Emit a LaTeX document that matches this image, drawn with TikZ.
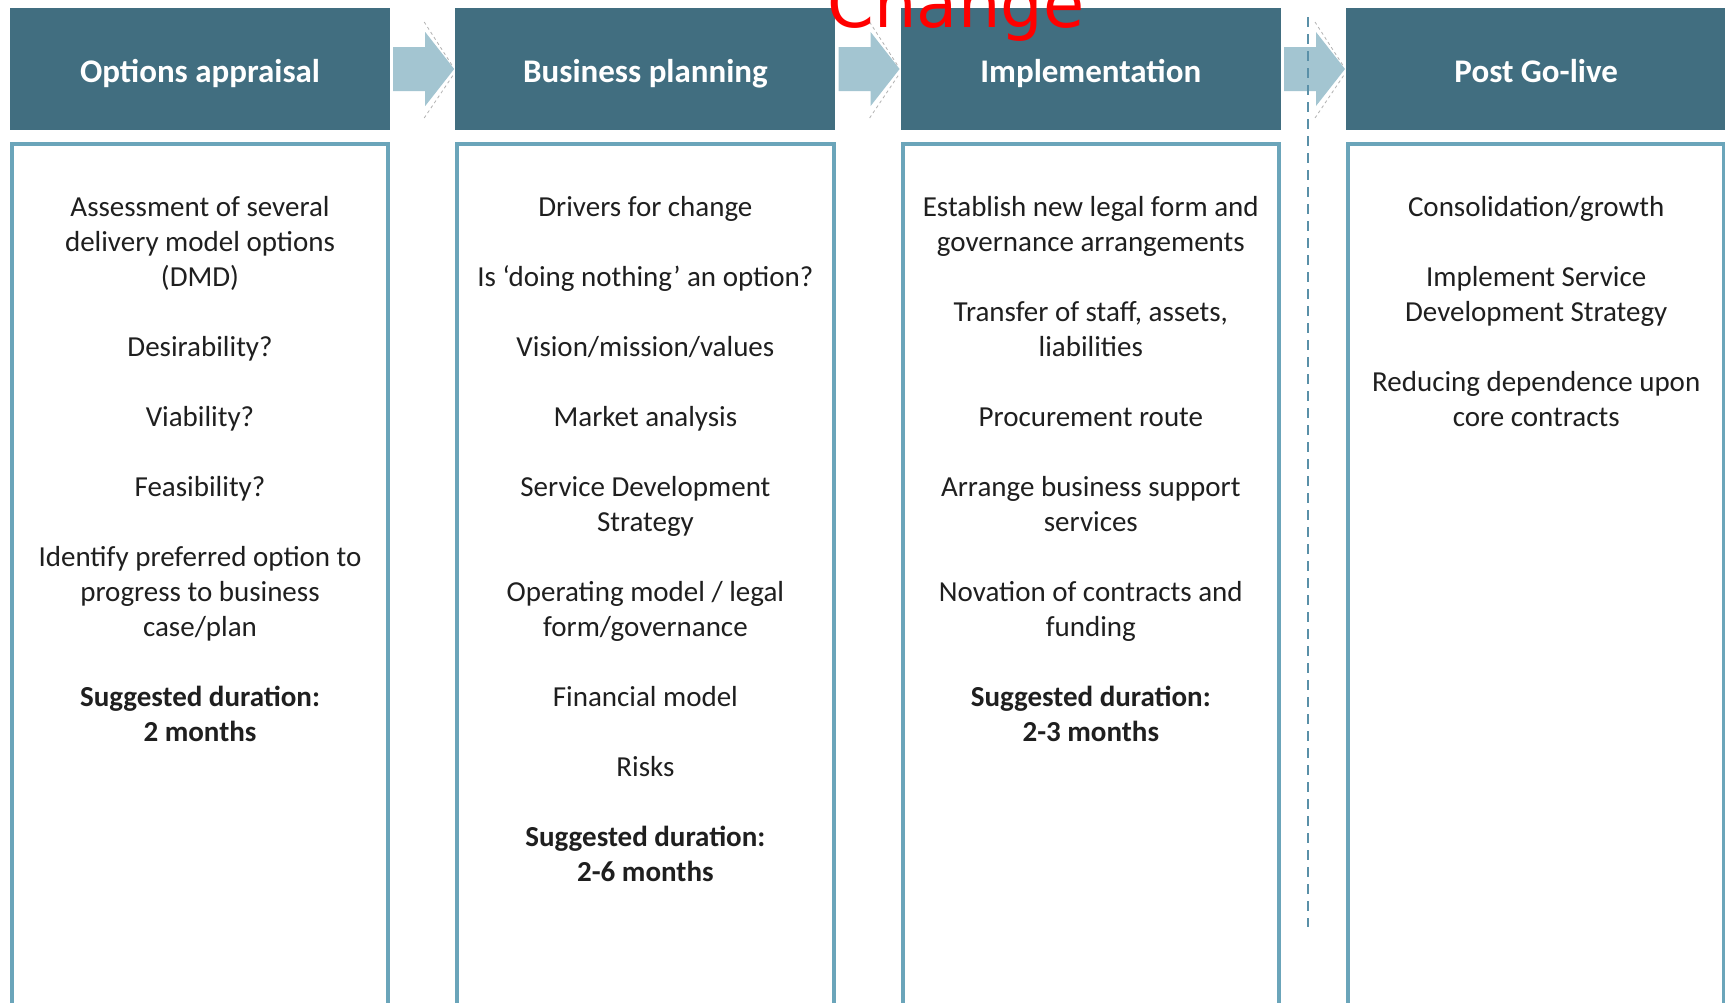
\documentclass[tikz,border=0pt]{standalone}
\usepackage{fontspec}
\setmainfont{Carlito}
\newfontfamily\changefont{DejaVu Sans}
\usetikzlibrary{calc,positioning}
\definecolor{headblue}{HTML}{416E80}
\definecolor{arrowblue}{HTML}{A3C5D1}
\definecolor{frameblue}{HTML}{6BA5BA}
\definecolor{cutblue}{HTML}{5A90A8}
\def\phasearrow(#1)(#2){\fill[arrowblue] ($(#1.east)+(3,-22)$) -| ($(#2.west)+(-30,-37)$) -- ($(#2.west)+(-1,0)$) -- ($(#2.west)+(-30,37)$) |- ($(#1.east)+(3,22)$) -- cycle;
	\draw[arrowedge] ($(#2.west)+(-31,-47)$) -- ($(#2.west)+(-2,-2)$);
	\draw[arrowedge] ($(#2.west)+(-31,49)$) -- ($(#2.west)+(-2,6)$);}
\tikzset{
	phasehead/.style={fill=headblue, text=white, minimum width=380pt, minimum height=122pt, inner sep=0pt, text height=26pt, text depth=0pt, font=\fontsize{33}{40}\selectfont\bfseries},
	phasetext/.style={align=center, inner sep=0pt, text=black!88, font=\fontsize{29}{35}\selectfont},
	bodyframe/.style={draw=frameblue, line width=4pt, fill=white},
	arrowedge/.style={draw=black!30, line width=0.8pt, dash pattern=on 3pt off 3pt},
	cutline/.style={draw=cutblue, line width=2pt, dash pattern=on 10pt off 7pt}
}

\begin{document}
\begin{tikzpicture}[x=1pt,y=-1pt]
		%%%%% START %%%%%
		\clip (0,0) rectangle (1725,1002);
		\fill[white] (0,0) rectangle (1725,1002);
		
		% phase headers
		\node[phasehead] (h1) at (200,69) {Options appraisal};
		\node[phasehead, right=65pt of h1] (h2) {Business planning};
		\node[phasehead, right=65pt of h2] (h3) {Implementation};
		\node[phasehead, right=65pt of h3] (h4) {Post Go-live};
		
		% phase bodies
		\foreach \h in {h1,h2,h3,h4}
			\draw[bodyframe] ($(\h.south west)+(2,14)$) rectangle ($(\h.south east)+(-2,900)$);
		
		\node[phasetext, below=66pt of h1] (t1) {Assessment of several\\delivery model options\\(DMD)\\[35pt]
			Desirability?\\[35pt]Viability?\\[35pt]Feasibility?\\[35pt]
			Identify preferred option to\\progress to business\\case/plan\\[35pt]
			\textbf{Suggested duration:}\\\textbf{2 months}};
		\node[phasetext, below=66pt of h2] (t2) {Drivers for change\\[35pt]
			Is ‘doing nothing’ an option?\\[35pt]Vision/mission/values\\[35pt]
			Market analysis\\[35pt]Service Development\\Strategy\\[35pt]
			Operating model / legal\\form/governance\\[35pt]Financial model\\[35pt]Risks\\[35pt]
			\textbf{Suggested duration:}\\\textbf{2-6 months}};
		\node[phasetext, below=66pt of h3] (t3) {Establish new legal form and\\governance arrangements\\[35pt]
			Transfer of staff, assets,\\liabilities\\[35pt]Procurement route\\[35pt]
			Arrange business support\\services\\[35pt]Novation of contracts and\\funding\\[35pt]
			\textbf{Suggested duration:}\\\textbf{2-3 months}};
		\node[phasetext, below=66pt of h4] (t4) {Consolidation/growth\\[35pt]
			Implement Service\\Development Strategy\\[35pt]
			Reducing dependence upon\\core contracts};
		
		% arrows between phases
		\phasearrow(h1)(h2)
		\phasearrow(h2)(h3)
		\phasearrow(h3)(h4)
		
		% go-live cut
		\coordinate (cut top) at (1308,17);
		\coordinate (cut bottom) at (1308,927);
		\draw[cutline] (cut top) -- (cut bottom);
		
		\node[anchor=base, text=red, font=\changefont\fontsize{67}{80}\selectfont] (change) at (956,27) {Change};
		%%%%% END %%%%%
	\end{tikzpicture}
\end{document}
